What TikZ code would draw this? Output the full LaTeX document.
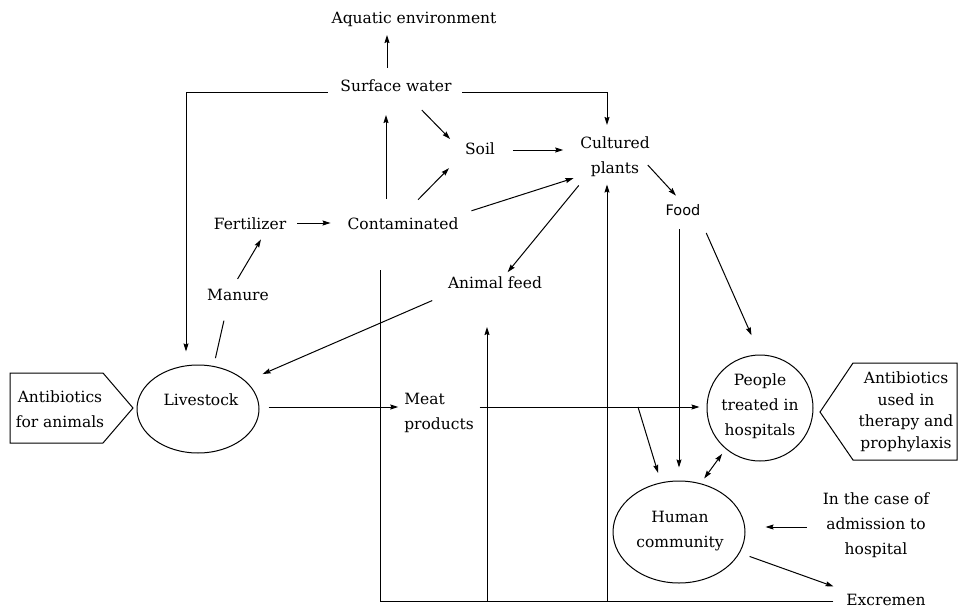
\documentclass[tikz,border=0pt]{standalone}
\usepackage{fontspec}
\setmainfont{DejaVu Serif}
\setsansfont{DejaVu Sans}
\usetikzlibrary{arrows.meta,shapes.geometric,calc}
\begin{document}
\begin{tikzpicture}[x=1pt,y=-1pt,
  txt/.style={font=\fontsize{15.5}{25}\selectfont, inner sep=3pt, outer sep=0pt},
  one/.style={txt, text height=12pt, text depth=4pt},
  conn/.style={line width=1pt},
  arr/.style={conn,-{Stealth[length=8pt,width=5pt,inset=1pt]}},
  arrb/.style={conn,{Stealth[length=8pt,width=5pt,inset=1pt]}-{Stealth[length=8pt,width=5pt,inset=1pt]}},
  oval/.style={draw, ellipse, line width=1pt, inner sep=0pt},
  tag/.style={line width=1pt}]
\useasboundingbox (0,0) rectangle (958,607);

% text nodes
\node[one] (aq) at (414,20) {Aquatic environment};
\node[one] (sw) at (396,88) {Surface water};
\node[one] (soil) at (480,150) {Soil};
\node[txt, align=center] (cp) at (615,157) {Cultured\\plants};
\node[one, font=\fontsize{14.5}{20}\selectfont\sffamily] (food) at (683,211) {Food};
\node[one] (cont) at (403,225) {Contaminated};
\node[one] (fert) at (250,225) {Fertilizer};
\node[one] (man) at (238,296) {Manure};
\node[one] (af) at (495,284) {Animal feed};
\node[txt, align=left] (meat) at (439,413) {Meat\\products};
\node[txt, align=center] (case) at (876,525) {In the case of\\admission to\\hospital};
\node[one] (exc) at (886,601) {Excremen};

% ellipses
\node[oval, minimum width=122pt, minimum height=88pt] (ls) at (198,409) {};
\node[one] (lst) at (201,401) {Livestock};
\node[draw, circle, line width=1pt, inner sep=0pt, minimum size=106pt] (pp) at (760,408) {};
\node[txt, align=center] (ppt) at (760,406) {People\\treated in\\hospitals};
\node[oval, minimum width=132pt, minimum height=102pt] (hc) at (679,532) {};
\node[txt, align=center] (hct) at (680,531) {Human\\community};

% pentagon tags
\draw[tag] (10,373) -- (103,373) -- (133,408) -- (103,443) -- (10,443) -- cycle;
\node[txt, align=center] (aba) at (60,409) {Antibiotics\\for animals};
\draw[tag] (957,363) -- (853,363) -- (820,412) -- (853,460) -- (957,460) -- cycle;
\node[txt, align=center, font=\fontsize{15.5}{21.5}\selectfont] (abu) at (906,412) {Antibiotics\\used in\\therapy and\\prophylaxis};

% connectors
\draw[arr, shorten <=9pt, shorten >=4pt] ([xshift=-9pt]sw.north) -- ([xshift=-9pt]sw.north |- aq.south);
\draw[arr, shorten <=9.5pt, shorten >=13pt] ([yshift=-5pt]sw.west) -| ([xshift=-12pt]ls.north);
\draw[arr, shorten <=7.5pt, shorten >=9pt] ([yshift=-5pt]sw.east) -| ([xshift=-8pt]cp.north);
\draw[arr, shorten <=15.5pt] ([xshift=15pt]sw.south) -- ([xshift=-12pt]soil.north west);
\draw[arr, shorten <=15pt, shorten >=16pt] ([xshift=-17pt]cont.north) -- ([xshift=-17pt]cont.north |- sw.south);
\draw[arr, shorten <=20pt, shorten >=10pt] ([xshift=1pt]cont.north) -- ([xshift=-6pt]soil.south west);
\draw[arr, shorten <=15pt, shorten >=14pt] (soil.east) -- (soil.east -| cp.west);
\draw[arr, shorten <=10.5pt, shorten >=4pt] (cont.north east) -- ([yshift=3pt]cp.south west);
\draw[arr, shorten <=7pt, shorten >=1pt] ([xshift=6pt]cp.south west) -- ([xshift=12pt]af.north);
\draw[arr, shorten <=14pt, shorten >=18pt] (af.south west) -- (ls.30);
\draw[arr, shorten >=6pt] ([xshift=-5pt,yshift=-8pt]cp.east) -- ([xshift=-3pt]food.north);
\draw[arr, shorten <=7pt, shorten >=13pt] ([xshift=-4pt]food.south) -- ([xshift=-4pt]food.south |- hc.north);
\draw[arr, shorten <=12pt, shorten >=21pt] ([xshift=-2pt]food.south east) -- (pp.north);
\draw[arr, shorten <=9pt, shorten >=3pt] ([yshift=2pt]ls.east) -- ([yshift=2pt]ls.east -| meat.west);
\draw[arr, shorten <=3pt, shorten >=7pt] ([yshift=6pt]meat.east) -- ([yshift=6pt]meat.east -| pp.west);
\coordinate (br) at (638,407);
\draw[arr, shorten >=10pt] (br) -- (hc.110);
\draw[arrb, shorten <=6pt, shorten >=6pt] (hc.66) -- (pp.230);
\draw[arr, shorten <=13pt, shorten >=20pt] ([yshift=-2pt]case.west) -- ([yshift=-2pt]case.west -| hc.east);
\draw[arr, shorten <=10.5pt, shorten >=10.5pt] (hc.-19) -- (exc.north west);
\draw[conn, shorten <=10pt, shorten >=34pt] (exc.west) -| ([xshift=-23pt]cont.south);
\draw[arr, shorten >=32pt] ([xshift=-8pt]af.south |- exc.west) -- ([xshift=-8pt]af.south);
\draw[arr, shorten >=4.5pt] ([xshift=-8pt]cp.south |- exc.west) -- ([xshift=-8pt]cp.south);
\draw[arr, shorten <=8pt, shorten >=14pt] ([yshift=2pt]fert.east) -- ([yshift=2pt]fert.east -| cont.west);
\draw[arr, shorten <=7pt, shorten >=4pt] ([xshift=-4pt]man.north) -- ([xshift=13pt]fert.south);
\draw[conn, shorten <=8pt, shorten >=14pt] (ls.70) -- ([xshift=-11pt]man.south);
\end{tikzpicture}
\end{document}
